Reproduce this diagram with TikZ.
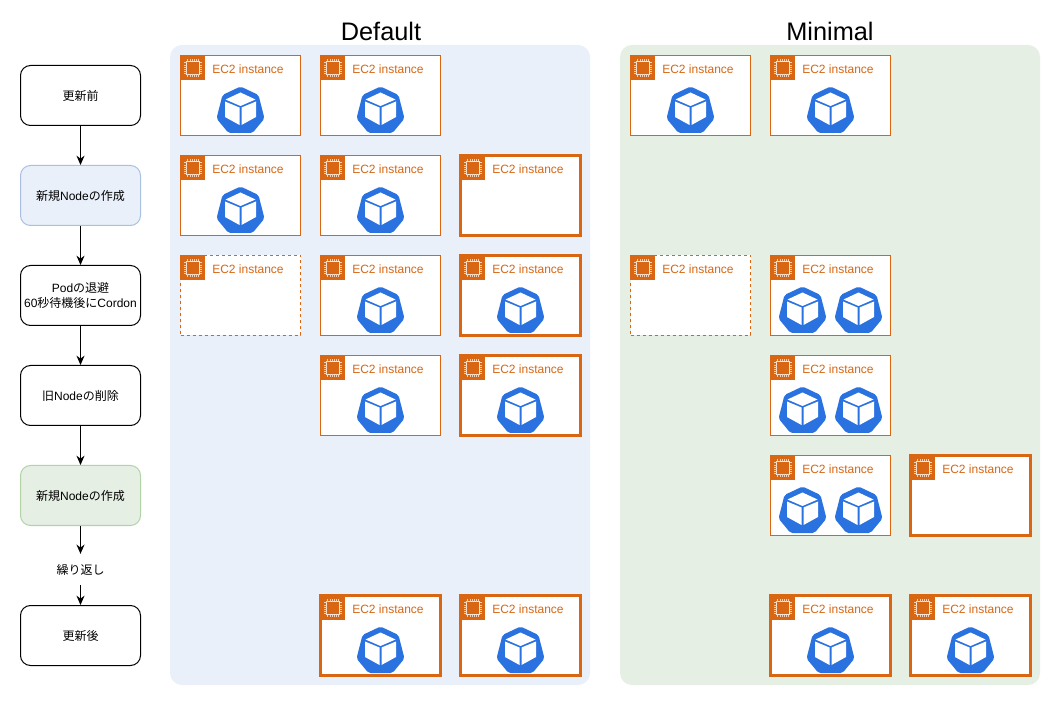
\documentclass[tikz,border=0pt]{standalone}
\usepackage{fontspec}
\setmainfont{Liberation Sans}
\newfontfamily\cjk{Noto Sans CJK JP}
\usetikzlibrary{arrows.meta}
\definecolor{awsorange}{HTML}{D86613}
\definecolor{podblue}{HTML}{2A72E0}
\definecolor{defaultbg}{HTML}{E9F0FA}
\definecolor{minimalbg}{HTML}{E5EFE4}
\definecolor{defaultline}{HTML}{A9C0E2}
\definecolor{minimalline}{HTML}{B2D3A6}

\newcommand{\jp}[1]{{\cjk #1}}
\newcommand{\ecinst}[4]{%
  \node[ecbox,#4] (#1) at (#2+.5,#3+.5) {};
  \node[echead] (#1h) at (#2,#3) {};
  \pic at (#2+13,#3+13) {chipicon};
  \node[eclabel] (#1t) at (#2+32,#3+14) {EC2 instance};
}

\tikzset{
  stepbox/.style={draw=black, fill=white, rounded corners=7.5pt, line width=.75pt,
    minimum width=90pt, minimum height=45pt, inner sep=0pt, align=center, font=\fontsize{9}{11.25}\selectfont},
  flow/.style={-{Stealth[length=7pt,width=6pt]}, line width=.75pt},
  panel/.style={rounded corners=9pt, draw=none},
  ectitle/.style={font=\fontsize{19}{21}\selectfont},
  ecbox/.style={draw=awsorange, fill=white, line width=.75pt, anchor=north west,
    minimum width=90pt, minimum height=60pt, inner sep=0pt, outer sep=0pt},
  ecthick/.style={line width=2.25pt},
  ecdash/.style={dashed, dash pattern=on 2.25pt off 2.25pt},
  echead/.style={fill=awsorange, anchor=north west, minimum size=19pt, inner sep=0pt, outer sep=0pt},
  eclabel/.style={text=awsorange, anchor=west, inner sep=0pt, font=\fontsize{9}{10}\selectfont},
  pics/chipicon/.style={code={
    \draw[white!85!awsorange, line width=.5pt] (-6.5,-6.5) rectangle (6.5,6.5);
    \foreach \t in {-5.5,-3.3,-1.1,1.1,3.3,5.5} {
      \draw[white!70!awsorange, line width=.25pt] (\t,-6.5) -- (\t,-8.7) (\t,6.5) -- (\t,8.7);
      \draw[white!70!awsorange, line width=.25pt] (-6.5,\t) -- (-8.7,\t) (6.5,\t) -- (8.7,\t);
    }
  }},
  pics/podicon/.style={code={
    \fill[podblue, rounded corners=1.5pt] (0,-24.5) -- (18,-16) -- (24,7.5) -- (12,22) -- (-12,22) -- (-24,7.5) -- (-18,-16) -- cycle;
    \fill[white] (0,-18.5) -- (15,-11.5) -- (0,-5) -- (-15,-11.5) -- cycle;
    \fill[white] (-15.5,-9.5) -- (-1,-3.5) -- (-1,14) -- (-15.5,6) -- cycle;
    \fill[white] (15.5,-9.5) -- (1,-3.5) -- (1,14) -- (15.5,6) -- cycle;
  }},
}

\begin{document}
\begin{tikzpicture}[x=.75pt, y=-.75pt]
  \useasboundingbox[fill=white] (0,0) rectangle (1060,705);

  % --- panels ---
  \fill[panel, defaultbg] (170,45) rectangle (590,685);
  \fill[panel, minimalbg] (620,45) rectangle (1040,685);
  \node[ectitle] (deftitle) at (381,31) {Default};
  \node[ectitle] (mintitle) at (830,31) {Minimal};

  % --- steps ---
  \node[stepbox] (before) at (80.5,95.5) {\jp{更新前}};
  \node[stepbox, fill=defaultbg, draw=defaultline] (newa) at (80.5,195.5) {\jp{新規}Node\jp{の作成}};
  \node[stepbox] (evict) at (80.5,295.5) {Pod\jp{の退避}\\60\jp{秒待機後に}Cordon};
  \node[stepbox] (oldnode) at (80.5,395.5) {\jp{旧}Node\jp{の削除}};
  \node[stepbox, fill=minimalbg, draw=minimalline] (newb) at (80.5,495.5) {\jp{新規}Node\jp{の作成}};
  \node[font=\fontsize{9}{11.25}\selectfont, inner sep=0pt, minimum width=60pt, minimum height=23pt] (repeat) at (80.5,569.5) {\jp{繰り返し}};
  \node[stepbox] (after) at (80.5,635.5) {\jp{更新後}};

  \draw[flow] (before) -- (newa);
  \draw[flow] (newa) -- (evict);
  \draw[flow] (evict) -- (oldnode);
  \draw[flow] (oldnode) -- (newb);
  \draw[flow] (newb) -- (repeat);
  \draw[flow] (repeat) -- (after);

  % --- Default ---
  \ecinst{da}{180}{55}{}
  \ecinst{db}{320}{55}{}
  \ecinst{dc}{180}{155}{}
  \ecinst{dd}{320}{155}{}
  \ecinst{de}{460}{155}{ecthick}
  \ecinst{df}{180}{255}{ecdash}
  \ecinst{dg}{320}{255}{}
  \ecinst{dh}{460}{255}{ecthick}
  \ecinst{di}{320}{355}{}
  \ecinst{dj}{460}{355}{ecthick}
  \ecinst{dk}{320}{595}{ecthick}
  \ecinst{dl}{460}{595}{ecthick}
  \foreach \x/\y in {240.5/111,380.5/111,240.5/211,380.5/211,380.5/311,520.5/311,380.5/411,520.5/411,380.5/651,520.5/651}
    \pic at (\x,\y) {podicon};

  % --- Minimal ---
  \ecinst{ma}{630}{55}{}
  \ecinst{mb}{770}{55}{}
  \ecinst{mc}{630}{255}{ecdash}
  \ecinst{md}{770}{255}{}
  \ecinst{me}{770}{355}{}
  \ecinst{mf}{770}{455}{}
  \ecinst{mg}{910}{455}{ecthick}
  \ecinst{mh}{770}{595}{ecthick}
  \ecinst{mi}{910}{595}{ecthick}
  \foreach \x/\y in {690.5/111,830.5/111,802.5/311,858.5/311,802.5/411,858.5/411,802.5/511,858.5/511,830.5/651,970.5/651}
    \pic at (\x,\y) {podicon};
\end{tikzpicture}
\end{document}
